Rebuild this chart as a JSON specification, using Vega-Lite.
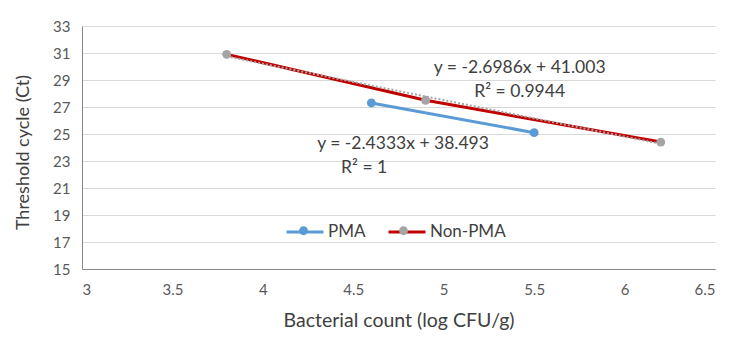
{
  "$schema": "https://vega.github.io/schema/vega-lite/v6.json",
  "width": 633,
  "height": 243,
  "autosize": "none",
  "padding": {"left": 82, "top": 26, "right": 35, "bottom": 84},
  "config": {"view": {"stroke": null}, "font": "Lato"},
  "datasets": {
    "points": [
      {"series": "PMA", "marker": "PMA", "x": 4.6, "y": 27.3},
      {"series": "PMA", "marker": "PMA", "x": 5.5, "y": 25.1},
      {"series": "Non-PMA", "marker": "Non-PMA", "x": 3.8, "y": 30.9},
      {"series": "Non-PMA", "marker": "Non-PMA", "x": 4.9, "y": 27.5},
      {"series": "Non-PMA", "marker": "Non-PMA", "x": 6.2, "y": 24.4}
    ],
    "notes": [
      {"x": 5.42, "y": 29.89, "label": "y = -2.6986x + 41.003"},
      {"x": 5.42, "y": 28.13, "label": "R² = 0.9944"},
      {"x": 4.775, "y": 24.26, "label": "y = -2.4333x + 38.493"},
      {"x": 4.56, "y": 22.48, "label": "R² = 1"}
    ]
  },
  "encoding": {
    "x": {
      "field": "x", "type": "quantitative",
      "scale": {"domain": [3, 6.5], "nice": false, "zero": false},
      "axis": {
        "values": [3, 3.5, 4, 4.5, 5, 5.5, 6, 6.5], "format": "~g",
        "grid": false, "ticks": false, "domainColor": "#868686",
        "labelFont": "Lato", "labelFontSize": 15, "labelColor": "#595959", "labelPadding": 13,
        "title": "Bacterial count (log CFU/g)", "titleFont": "Lato", "titleFontSize": 19.5,
        "titleFontWeight": "normal", "titleColor": "#404040", "titlePadding": 14
      }
    },
    "y": {
      "field": "y", "type": "quantitative",
      "scale": {"domain": [15, 33], "nice": false, "zero": false},
      "axis": {
        "values": [15, 17, 19, 21, 23, 25, 27, 29, 31, 33],
        "grid": true, "gridColor": "#d9d9d9", "ticks": false, "domainColor": "#868686",
        "labelFont": "Lato", "labelFontSize": 15, "labelColor": "#595959", "labelPadding": 12,
        "title": "Threshold cycle (Ct)", "titleFont": "Lato", "titleFontSize": 18,
        "titleFontWeight": "normal", "titleColor": "#404040", "titlePadding": 20, "titleY": 126
      }
    }
  },
  "layer": [
    {
      "data": {"name": "points"},
      "mark": {"type": "line", "strokeWidth": 3},
      "encoding": {
        "stroke": {
          "field": "series", "type": "nominal",
          "scale": {"domain": ["PMA", "Non-PMA"], "range": ["#5B9BD5", "#C00000"]},
          "legend": {
            "orient": "none", "legendX": 203, "legendY": 186, "direction": "horizontal",
            "title": null, "symbolType": "stroke", "symbolSize": 1369, "symbolStrokeWidth": 3,
            "labelFont": "Lato", "labelFontSize": 17, "labelColor": "#404040",
            "labelOffset": 3, "columnPadding": 16, "padding": 0
          }
        }
      }
    },
    {
      "data": {"name": "points"},
      "transform": [
        {"filter": "datum.series === 'Non-PMA'"},
        {"regression": "y", "on": "x", "extent": [3.8, 6.2]}
      ],
      "mark": {"type": "line", "stroke": "#A5A5A5", "strokeWidth": 2, "strokeDash": [2, 2]},
      "encoding": {}
    },
    {
      "data": {"name": "points"},
      "mark": {"type": "circle", "size": 80, "opacity": 1},
      "encoding": {
        "fill": {
          "field": "marker", "type": "nominal",
          "sort": ["PMA", "Non-PMA"],
          "scale": {"range": ["#5B9BD5", "#A5A5A5"]},
          "legend": {
            "orient": "none", "legendX": 203, "legendY": 186, "direction": "horizontal",
            "title": null,
            "symbolType": "M-0.24,0A0.24,0.24 0 1,0 0.24,0A0.24,0.24 0 1,0 -0.24,0Z",
            "symbolSize": 1369, "symbolStrokeWidth": 0, "symbolOpacity": 1,
            "labelExpr": "''", "labelFontSize": 17,
            "labelOffset": 3, "columnPadding": 60, "padding": 0
          }
        }
      }
    },
    {
      "data": {"name": "notes"},
      "mark": {"type": "text", "font": "Lato", "fontSize": 17.5, "color": "#404040", "align": "center", "baseline": "middle"},
      "encoding": {"text": {"field": "label"}}
    }
  ]
}
